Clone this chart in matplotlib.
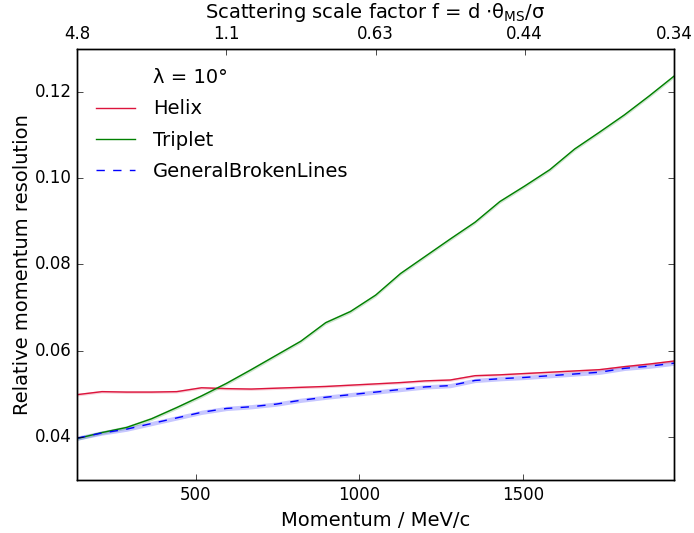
import matplotlib
matplotlib.use("Agg")
import matplotlib.pyplot as plt
import numpy as np

plt.style.use("classic")
plt.rcParams["mathtext.fontset"] = "dejavusans"

momentum = [136, 212, 288, 364, 441, 517, 593, 669, 745, 821, 897, 973, 1050,
            1126, 1202, 1278, 1354, 1430, 1506, 1583, 1659, 1735, 1811, 1887, 1963]

helix = [0.0498, 0.0505, 0.0504, 0.0504, 0.0505, 0.0514, 0.0512, 0.0511, 0.0513,
         0.0515, 0.0517, 0.0520, 0.0523, 0.0526, 0.0530, 0.0532, 0.0542, 0.0544,
         0.0547, 0.0550, 0.0553, 0.0556, 0.0563, 0.0569, 0.0576]

triplet = [0.0396, 0.0410, 0.0422, 0.0442, 0.0468, 0.0495, 0.0524, 0.0556, 0.0589,
           0.0622, 0.0665, 0.0691, 0.0729, 0.0779, 0.0819, 0.0859, 0.0898, 0.0946,
           0.0982, 0.1020, 0.1068, 0.1107, 0.1147, 0.1191, 0.1237]

gbl = [0.0397, 0.0409, 0.0418, 0.0431, 0.0444, 0.0457, 0.0466, 0.0470, 0.0476,
       0.0485, 0.0492, 0.0498, 0.0504, 0.0510, 0.0516, 0.0519, 0.0531, 0.0535,
       0.0538, 0.0542, 0.0546, 0.0550, 0.0559, 0.0564, 0.0571]

helix_err = 0.0003
triplet_err = 0.0004
gbl_err = 0.0005

top_tick_labels = ["4.8", "1.1", "0.63", "0.44", "0.34"]
top_tick_momenta = [136, 593, 1050, 1506, 1963]

fig = plt.figure(figsize=(6.94, 5.33), dpi=100, facecolor="white")
ax = fig.add_axes([77/694, 1 - 480/533, (674-77)/694, (480-49)/533])

x = np.array(momentum)
series = [
    ("Helix", helix, helix_err, "#dc143c", "-", 0.2),
    ("Triplet", triplet, triplet_err, "green", "-", 0.2),
    ("GeneralBrokenLines", gbl, gbl_err, "blue", "--", 0.22),
]

ax.plot([], [], " ", label="λ = 10°")
for name, vals, err, col, ls, a in series:
    v = np.array(vals)
    ax.fill_between(x, v - err, v + err, color=col, alpha=a, linewidth=0)
    ax.plot(x, v, color=col, linestyle=ls, linewidth=1.0, label=name)

ax.set_xlim(136, 1963)
ax.set_ylim(0.03, 0.13)
ax.set_xticks([500, 1000, 1500])
ax.set_yticks([0.04, 0.06, 0.08, 0.10, 0.12])
ax.set_yticklabels(["0.04", "0.06", "0.08", "0.10", "0.12"])
ax.tick_params(axis="both", labelsize=12, direction="in", top=False)
ax.set_xlabel("Momentum / MeV/c", fontsize=14)
ax.set_ylabel("Relative momentum resolution", fontsize=14, labelpad=2)

ax2 = ax.twiny()
ax2.set_xlim(ax.get_xlim())
ax2.set_xticks(top_tick_momenta)
ax2.set_xticklabels(top_tick_labels)
ax2.tick_params(axis="x", labelsize=12, direction="in")
ax2.set_xlabel(r"Scattering scale factor f = d $\cdot$θ$_{\mathrm{MS}}$/σ", fontsize=14)

leg = ax.legend(loc="upper left", frameon=False, fontsize=14, labelspacing=0.62,
                handlelength=2.0, handletextpad=0.9, borderaxespad=0.6,
                numpoints=1)

fig.savefig("out.png", dpi=100, facecolor="white")
